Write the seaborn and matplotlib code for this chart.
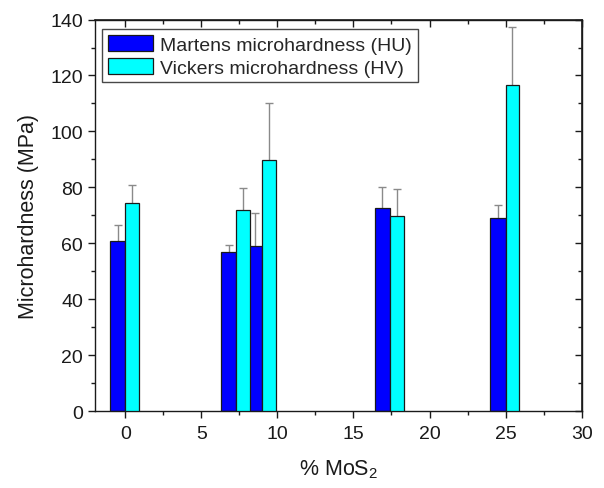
import matplotlib
matplotlib.use("Agg")
import matplotlib.pyplot as plt
from matplotlib.ticker import MultipleLocator, FormatStrFormatter
import seaborn as sns
import pandas as pd

# MoS2 content (%) of each sample
mos2 = [0, 7.3, 9.0, 17.4, 25.0]
# Martens microhardness (HU) and its standard deviation, MPa
martens = [60.8, 56.8, 59.2, 72.7, 68.9]
martens_err = [5.6, 2.5, 11.5, 7.5, 4.8]
# Vickers microhardness (HV) and its standard deviation, MPa
vickers = [74.5, 72.1, 89.8, 69.8, 116.5]
vickers_err = [6.4, 7.8, 20.4, 9.5, 21.0]

series_labels = ["Martens microhardness (HU)", "Vickers microhardness (HV)"]
x_label = "% MoS$_2$"
y_label = "Microhardness (MPa)"

sns.set_theme(style="ticks")
plt.rcParams["font.family"] = ["Liberation Sans", "DejaVu Sans"]
plt.rcParams["mathtext.fontset"] = "custom"
plt.rcParams["mathtext.rm"] = "Liberation Sans"
plt.rcParams["mathtext.it"] = "Liberation Sans:italic"

ink = "#1a1a1a"
fig = plt.figure(figsize=(6.04, 4.89), dpi=100)
ax = fig.add_axes([0.157, 0.157, 0.806, 0.801])

# Martens bars sit just left of each composition, Vickers bars just right
w_m, w_v = 1.0, 0.9
df_m = pd.DataFrame({"x": [v - w_m / 2 for v in mos2], "y": martens})
df_v = pd.DataFrame({"x": [v + w_v / 2 for v in mos2], "y": vickers})
xs = sorted(df_m["x"])
gap = min(b - a for a, b in zip(xs[:-1], xs[1:]))

sns.barplot(data=df_m, x="x", y="y", native_scale=True, width=w_m / gap,
            color="#0000FF", saturation=1, edgecolor=ink, linewidth=0.9,
            errorbar=None, label=series_labels[0], ax=ax, zorder=2)
sns.barplot(data=df_v, x="x", y="y", native_scale=True, width=w_v / gap,
            color="#00FFFF", saturation=1, edgecolor=ink, linewidth=0.9,
            errorbar=None, label=series_labels[1], ax=ax, zorder=3)

# error bars drawn behind the bars so only the upper half shows
ax.errorbar(df_m["x"], df_m["y"], yerr=martens_err, fmt="none", ecolor="#8a8a8a",
            elinewidth=1.0, capsize=3.2, capthick=1.0, zorder=1)
ax.errorbar(df_v["x"], df_v["y"], yerr=vickers_err, fmt="none", ecolor="#8a8a8a",
            elinewidth=1.0, capsize=3.2, capthick=1.0, zorder=1)

ax.set_xlim(-2, 30)
ax.set_ylim(0, 140)
ax.xaxis.set_major_locator(MultipleLocator(5))
ax.xaxis.set_minor_locator(MultipleLocator(2.5))
ax.yaxis.set_major_locator(MultipleLocator(20))
ax.yaxis.set_minor_locator(MultipleLocator(10))
ax.xaxis.set_major_formatter(FormatStrFormatter("%d"))

for s in ax.spines.values():
    s.set_visible(True)
    s.set_color(ink)
    s.set_linewidth(1.0)

ax.tick_params(which="both", direction="out", colors=ink, labelsize=14,
               labelcolor=ink, width=1.0)
ax.tick_params(which="major", length=5)
ax.tick_params(which="minor", length=3)
ax.tick_params(axis="x", pad=5)

top = ax.secondary_xaxis("top")
top.xaxis.set_major_locator(MultipleLocator(5))
top.xaxis.set_minor_locator(MultipleLocator(2.5))
top.tick_params(which="both", direction="in", labeltop=False, width=1.0, colors=ink)
top.tick_params(which="major", length=5)
top.tick_params(which="minor", length=3)
right = ax.secondary_yaxis("right")
right.yaxis.set_major_locator(MultipleLocator(20))
right.yaxis.set_minor_locator(MultipleLocator(10))
right.tick_params(which="both", direction="in", labelright=False, width=1.0, colors=ink)
right.tick_params(which="major", length=5)
right.tick_params(which="minor", length=3)

ax.set_xlabel(x_label, fontsize=15.5, color=ink, labelpad=11)
ax.set_ylabel(y_label, fontsize=15.5, color=ink, labelpad=8)

leg = ax.legend(loc="upper left", bbox_to_anchor=(0.015, 0.975), fontsize=14,
                frameon=True, fancybox=False, edgecolor=ink,
                handlelength=2.3, handleheight=0.9, handletextpad=0.4,
                borderpad=0.3, labelspacing=0.2, borderaxespad=0)
leg.get_frame().set_linewidth(1.0)

fig.savefig("out.png", dpi=100)
